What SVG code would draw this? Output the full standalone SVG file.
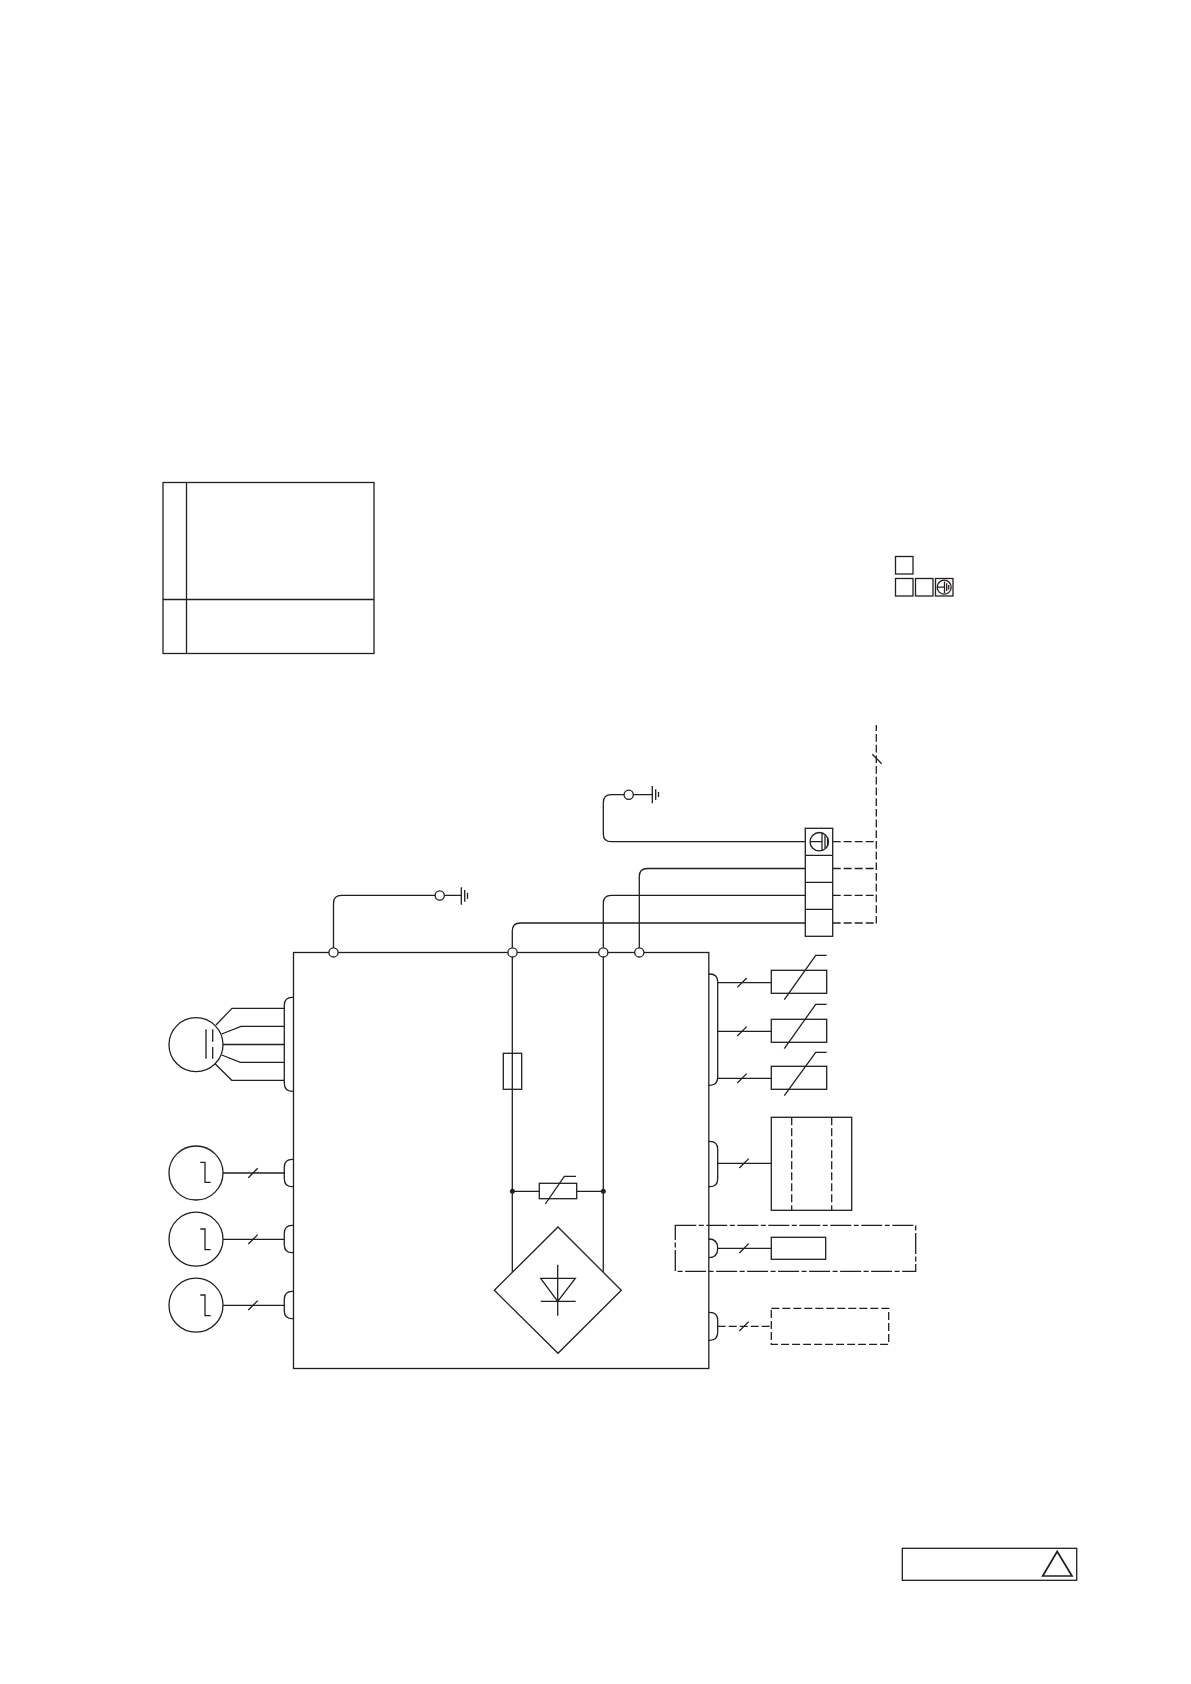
<svg xmlns="http://www.w3.org/2000/svg" width="1191" height="1684" viewBox="0 0 1191 1684">
<style>
rect,path,circle,line,polygon{fill:none;stroke:#231f20;stroke-width:1.3}
.w{fill:#fff}
.d{stroke-dasharray:8 3}
.dv{stroke-dasharray:7.7 3}
.dd{stroke-dasharray:21 2.5 5 2.5}
.dot{fill:#231f20;stroke:none}
</style>
<rect width="1191" height="1684" style="fill:#fff;stroke:none"/>
<g id="table">
<rect x="163" y="482.5" width="211" height="171"/>
<path d="M186.5 482.5V653.5M163 599.5H374"/>
</g>
<g id="legend">
<rect x="895.5" y="556.5" width="17.5" height="17.5"/>
<rect x="895.5" y="578.5" width="17.5" height="17.5"/>
<rect x="915.5" y="578.5" width="17.5" height="17.5"/>
<rect x="935.5" y="578.5" width="17.5" height="17.5"/>
<circle cx="944.2" cy="587.2" r="7"/>
<path d="M937.2 587.2H944.5M944.5 581.5V593M946.7 583.3V591M948.7 585V589.5"/>
</g>
<g id="main-box"><rect x="293.5" y="952.5" width="415.3" height="416"/></g>
<g id="connectors">
<path d="M333.5 952.5V903.3Q333.5 895.3 341.5 895.3H439.7M444.2 895.3H461.3"/>
<path d="M805.3 841.7H611.3Q603.3 841.7 603.3 833.7V802.7Q603.3 794.7 611.3 794.7H624.2M633.2 794.7H652.3"/>
<path d="M805.3 868.5H647.3Q639.3 868.5 639.3 876.5V952.3"/>
<path d="M805.3 895.3H611.3Q603.3 895.3 603.3 903.3V952.3"/>
<path d="M805.3 923H520.3Q512.3 923 512.3 931V952.3"/>
<path class="d" d="M832.7 841.7H876.3M832.7 868.5H876.3M832.7 895.3H876.3M832.7 923H876.3"/>
<path class="dv" d="M876.3 923.6V725"/>
<path d="M872.3 754.3L881.7 763.7"/>
<path d="M512.3 952.3V1271.7M603.3 952.3V1271.7"/>
<path d="M512.3 1191.3H539.3M576.7 1191.3H603.3"/>
<path d="M216 1025L232 1008.3H284.3M221.7 1034L241 1026.3H284.3M223 1044.5H284.3M221.7 1055L240.3 1062.3H284.3M215.3 1064L231.7 1080.3H284.3"/>
<path d="M223 1173H284.3M223 1239.3H284.3M223 1305.3H284.3"/>
<path d="M248.3 1177.7L257.7 1168.3M248.3 1244L257.7 1234.6M248.3 1310L257.7 1300.6"/>
<path d="M717.7 982.7H771.3M717.7 1031.3H771.3M717.7 1078.3H771.3M717.7 1163.3H771.3M717.7 1248.3H771.3"/>
<path d="M737.3 987.4L746.7 978M737.3 1036L746.7 1026.6M737.3 1083L746.7 1073.6M739.3 1168L748.7 1158.6M739.3 1253L748.7 1243.6M739.3 1331L748.7 1321.6"/>
<path class="d" d="M717.7 1326.3H771.3"/>
</g>
<g id="junctions">
<circle class="w" cx="333.5" cy="952.4" r="4.6"/>
<circle class="w" cx="512.5" cy="952.4" r="4.6"/>
<circle class="w" cx="603.3" cy="952.4" r="4.6"/>
<circle class="w" cx="639.3" cy="952.4" r="4.6"/>
<circle class="w" cx="439.7" cy="895.5" r="4.6"/>
<circle class="w" cx="628.7" cy="794.8" r="4.6"/>
<circle class="dot" cx="512.4" cy="1191.2" r="2.5"/>
<circle class="dot" cx="603.3" cy="1191.2" r="2.5"/>
</g>
<g id="ground-top"><path d="M461.3 887.3V904.7M464.7 890V901.7M467.5 892.7V898.7"/></g>
<g id="ground-mid"><path d="M652.3 786V803.3M655.7 789.3V800M658.5 792V797"/></g>
<g id="terminal-strip">
<rect x="805.3" y="828.3" width="27.4" height="108"/>
<path d="M805.3 855.3H832.7M805.3 882.3H832.7M805.3 909.3H832.7"/>
<circle cx="819.3" cy="841.7" r="9.2"/>
<path d="M810.1 841.7H822M822 832.8V850.6M825 835.5V848M827.6 838V845.5"/>
</g>
<g id="motor">
<circle cx="196" cy="1044.7" r="27"/>
<path d="M206 1029.3V1058.7M212.7 1029.3V1041.8M212.7 1047V1058.7"/>
</g>
<g id="sensor-1">
<circle cx="196" cy="1173" r="27"/>
<path d="M200.3 1162.3H205V1182.3H210.7"/>
</g>
<g id="sensor-2">
<circle cx="196" cy="1239.2" r="27"/>
<path d="M200.3 1229H205V1249.7H210.7"/>
</g>
<g id="sensor-3">
<circle cx="196" cy="1305.2" r="27"/>
<path d="M200.3 1295H205V1315.7H210.7"/>
</g>
<g id="plug-left">
<path d="M293.5 997.3H292.3Q284.3 997.3 284.3 1005.3V1083.3Q284.3 1091.3 292.3 1091.3H293.5"/>
<path d="M293.5 1159.3H292.3Q284.3 1159.3 284.3 1167.3V1178.7Q284.3 1186.7 292.3 1186.7H293.5"/>
<path d="M293.5 1225.3H292.3Q284.3 1225.3 284.3 1233.3V1244.7Q284.3 1252.7 292.3 1252.7H293.5"/>
<path d="M293.5 1291.3H292.3Q284.3 1291.3 284.3 1299.3V1310.7Q284.3 1318.7 292.3 1318.7H293.5"/>
</g>
<g id="plug-right">
<path d="M708.8 974H709.7Q717.7 974 717.7 982V1077.3Q717.7 1085.3 709.7 1085.3H708.8"/>
<path d="M708.8 1141.3H709.7Q717.7 1141.3 717.7 1149.3V1178.7Q717.7 1186.7 709.7 1186.7H708.8"/>
<path d="M708.8 1239Q717.7 1239 717.7 1248.3T708.8 1257.7"/>
<path d="M708.8 1312.3H709.7Q717.7 1312.3 717.7 1320.3V1332.3Q717.7 1340.3 709.7 1340.3H708.8"/>
</g>
<g id="fuse"><rect x="503.3" y="1053.3" width="18.4" height="36"/></g>
<g id="varistor">
<rect x="539.3" y="1183.3" width="37.4" height="15.4"/>
<path d="M545.3 1204L564.3 1176.3H576"/>
</g>
<g id="bridge">
<polygon points="558,1227 621.3,1290.3 558,1353.3 494.3,1290.3"/>
<path d="M540.7 1278.3H575.3L557.7 1301.3ZM540.7 1301.3H575.7M557.7 1264.7V1315.7"/>
</g>
<g id="thermistor-1">
<rect x="771.3" y="970.3" width="55.4" height="23"/>
<path d="M784.3 999.7L815.7 955.3H826.7"/>
</g>
<g id="thermistor-2">
<rect x="771.3" y="1019.3" width="55.4" height="23"/>
<path d="M784.3 1048.7L815.7 1004.3H826.7"/>
</g>
<g id="thermistor-3">
<rect x="771.3" y="1066.3" width="55.4" height="23"/>
<path d="M784.3 1095.7L815.7 1052.3H826.7"/>
</g>
<g id="valve">
<rect x="771.3" y="1117.3" width="80.4" height="93"/>
<path class="d" d="M791.7 1117.3V1210.3M831.7 1117.3V1210.3"/>
</g>
<g id="option-box">
<rect class="dd" x="675.3" y="1225.3" width="240.4" height="46"/>
<rect x="771.3" y="1237.3" width="54.4" height="22"/>
</g>
<g id="dashed-box"><rect class="d" x="771.3" y="1308.3" width="117.4" height="36"/></g>
<g id="title-box">
<rect x="902.3" y="1548.3" width="174.4" height="32"/>
<polygon points="1057.2,1551.5 1072,1576 1042.7,1576" style="stroke-width:1.7"/>
</g>
</svg>
